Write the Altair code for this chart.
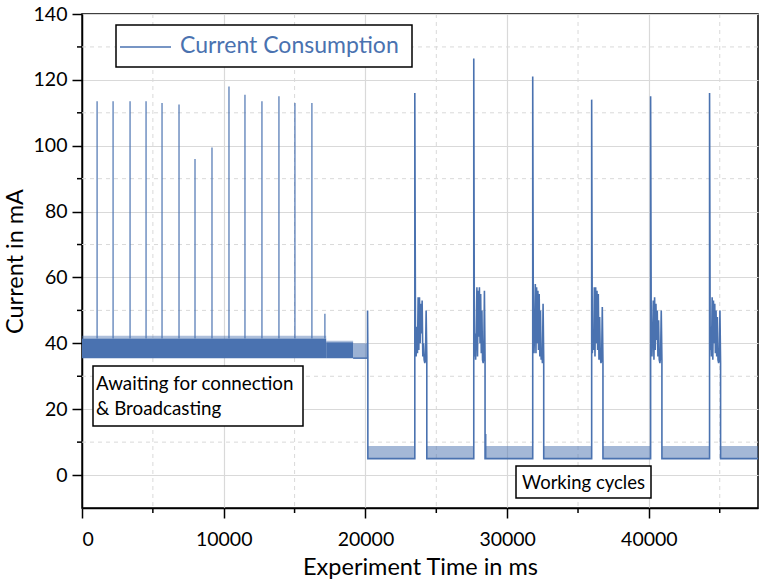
import altair as alt
import pandas as pd

BLUE = "#4a72b0"
GRID = "#d9d9d9"
FONT = "Lato"

# ---- axes ----
X_MAX = 47700
Y_MIN, Y_MAX = -10, 140
x_major = [0, 10000, 20000, 30000, 40000]
x_minor = [5000, 15000, 25000, 35000, 45000]
y_major = [0, 20, 40, 60, 80, 100, 120, 140]
y_minor = [10, 30, 50, 70, 90, 110, 130]

# ---- connection / broadcasting phase ----
conn_spike_t = [1065, 2193, 3391, 4520, 5647, 6846, 7974, 9172, 10371, 11499, 12697, 13896, 15024, 16222, 17139]
conn_spike_peak = [113.5, 113.5, 113.5, 113.5, 113, 112.5, 96, 99.5, 118, 115.5, 113.5, 115, 113, 113, 49]
conn_spike_base = 41.5

band_start = [0, 17230]
band_end = [17230, 19130]
band_low = [35.5, 35.5]
band_high = [41.5, 40.3]
fringe_high = [42.3, 40.8]

stripe_start = [19130]
stripe_end = [20150]
stripe_low = [35.5]
stripe_high = [40.0]

# ---- working cycles ----
switch_t = 20150
switch_peak = 50
low_level = 5
low_top = 8.8

cycle_spike_t = [23484, 27644, 31804, 35963, 40123, 44282]
cycle_spike_peak = [116, 126.5, 121, 114, 115, 116]
cycle_burst_end = [24330, 28440, 32580, 36760, 40920, 45060]
burst_1 = [41, 36, 45, 37, 54, 38, 54, 40, 52, 43, 53, 36, 40, 35, 34, 35, 50, 36]
burst_2 = [36, 43, 35, 44, 57, 36, 56, 42, 57, 40, 55, 37, 50, 35, 34, 36, 56, 35]
burst_3 = [40, 37, 46, 58, 37, 57, 40, 56, 38, 55, 36, 50, 35, 38, 34, 52, 35]
burst_4 = [37, 44, 38, 57, 36, 57, 40, 56, 38, 55, 35, 48, 36, 34, 35, 51, 34]
burst_5 = [40, 36, 43, 53, 35, 54, 38, 52, 41, 50, 36, 47, 35, 34, 36, 50, 35]
burst_6 = [38, 45, 36, 54, 35, 53, 40, 52, 37, 50, 36, 48, 35, 34, 35, 50, 34]
bursts = [burst_1, burst_2, burst_3, burst_4, burst_5, burst_6]

low_start = [20170, 24340, 28450, 32590, 36770, 40930, 45070]
low_end = [23484, 27644, 31804, 35963, 40123, 44282, 47700]
bump_start = [28450]
bump_end = [28540]
bump_top = [12.5]

# ---- build tables ----
line_rows = []
def add(t, v):
    line_rows.append({"t": t, "v": v, "seq": len(line_rows)})

add(switch_t, band_low[0])
add(switch_t, switch_peak)
add(low_start[0], 36)
add(low_start[0], low_level)
for i, st in enumerate(cycle_spike_t):
    add(st, low_level)
    add(st, cycle_spike_peak[i])
    vals = bursts[i]
    end = cycle_burst_end[i]
    n = len(vals)
    for k, v in enumerate(vals):
        add(st + (k + 1) * (end - st) / n, v)
    add(end, low_level)
    add(low_start[i + 1], low_level)
add(X_MAX, low_level)
line_df = pd.DataFrame(line_rows)

xs = alt.Scale(domain=[0, X_MAX], nice=False, zero=False)
ys = alt.Scale(domain=[Y_MIN, Y_MAX], nice=False, zero=False)

x_axis = alt.Axis(values=x_major, format="d", title="Experiment Time in ms",
                  grid=True, gridColor=GRID, gridWidth=1.2,
                  tickSize=10, tickWidth=1.5, tickColor="black",
                  domainColor="black", domainWidth=1.5,
                  labelFont=FONT, labelFontSize=19.5, labelColor="black", labelPadding=12,
                  titleFont=FONT, titleFontSize=23.5, titleFontWeight="normal",
                  titleColor="black", titlePadding=7)
y_axis = alt.Axis(values=y_major, format="d", title="Current in mA",
                  grid=True, gridColor=GRID, gridWidth=1.2,
                  tickSize=10, tickWidth=1.5, tickColor="black",
                  domainColor="black", domainWidth=1.5,
                  labelFont=FONT, labelFontSize=19.5, labelColor="black", labelPadding=5,
                  titleFont=FONT, titleFontSize=23.5, titleFontWeight="normal",
                  titleColor="black", titlePadding=6)


def X(field):
    return alt.X(field, scale=xs, axis=x_axis)


def Y(field):
    return alt.Y(field, scale=ys, axis=y_axis)


# minor grid
xminor_grid = alt.Chart(pd.DataFrame({"t": x_minor})).mark_rule(
    color=GRID, strokeDash=[4, 4], strokeWidth=1).encode(x=X("t:Q"))
yminor_grid = alt.Chart(pd.DataFrame({"v": y_minor})).mark_rule(
    color=GRID, strokeDash=[4, 4], strokeWidth=1).encode(y=Y("v:Q"))

# minor ticks
yminor_ticks = alt.Chart(pd.DataFrame({"v": y_minor})).mark_rule(
    color="black", strokeWidth=1.5).encode(
    y=Y("v:Q"), x=alt.value(-5), x2=alt.value(0))
xminor_ticks = alt.Chart(pd.DataFrame({"t": x_minor})).mark_rule(
    color="black", strokeWidth=1.5).encode(
    x=X("t:Q"), y=alt.value(494), y2=alt.value(499))

# bands
band_df = pd.DataFrame({"s": band_start, "e": band_end, "lo": band_low, "hi": band_high, "fh": fringe_high})
band = alt.Chart(band_df).mark_rect(color=BLUE).encode(
    x=X("s:Q"), x2="e:Q", y=Y("lo:Q"), y2="hi:Q")
fringe = alt.Chart(band_df).mark_rect(color=BLUE, opacity=0.45).encode(
    x=X("s:Q"), x2="e:Q", y=Y("hi:Q"), y2="fh:Q")
stripe_df = pd.DataFrame({"s": stripe_start, "e": stripe_end, "lo": stripe_low, "hi": stripe_high})
stripe = alt.Chart(stripe_df).mark_rect(color=BLUE, opacity=0.55).encode(
    x=X("s:Q"), x2="e:Q", y=Y("lo:Q"), y2="hi:Q")
stripe_floor = alt.Chart(stripe_df).mark_rule(color=BLUE, strokeWidth=1.5).encode(
    x=X("s:Q"), x2="e:Q", y=Y("lo:Q"))

conn_df = pd.DataFrame({"t": conn_spike_t, "p": conn_spike_peak, "b": [conn_spike_base] * len(conn_spike_t)})
conn_spikes = alt.Chart(conn_df).mark_rule(color=BLUE, strokeWidth=1.4, opacity=0.85).encode(
    x=X("t:Q"), y=Y("b:Q"), y2="p:Q")

low_df = pd.DataFrame({"s": low_start, "e": low_end, "lo": [low_level] * len(low_start), "hi": [low_top] * len(low_start)})
low_band = alt.Chart(low_df).mark_rect(color=BLUE, opacity=0.5).encode(
    x=X("s:Q"), x2="e:Q", y=Y("lo:Q"), y2="hi:Q")
bump_df = pd.DataFrame({"s": bump_start, "e": bump_end, "lo": [low_level], "hi": bump_top})
bump = alt.Chart(bump_df).mark_rect(color=BLUE).encode(
    x=X("s:Q"), x2="e:Q", y=Y("lo:Q"), y2="hi:Q")

signal = alt.Chart(line_df).mark_line(color=BLUE, strokeWidth=1.6).encode(
    x=X("t:Q"), y=Y("v:Q"), order="seq:Q")

# legend box
one = pd.DataFrame({"a": [0]})
legend_box = alt.Chart(one).mark_rect(fill="white", stroke="black", strokeWidth=1.5).encode(
    x=alt.value(34), x2=alt.value(330), y=alt.value(11), y2=alt.value(53))
legend_line = alt.Chart(one).mark_rule(color=BLUE, strokeWidth=1.5).encode(
    x=alt.value(38), x2=alt.value(89), y=alt.value(33))
legend_text = alt.Chart(one).mark_text(text="Current Consumption", align="left", baseline="middle",
                                       font=FONT, fontSize=23, color=BLUE).encode(
    x=alt.value(98), y=alt.value(32))

# annotations
ann1_box = alt.Chart(one).mark_rect(fill="white", stroke="black", strokeWidth=1.5).encode(
    x=alt.value(11), x2=alt.value(221), y=alt.value(352), y2=alt.value(412))
ann1_text = alt.Chart(one).mark_text(text=["Awaiting for connection", "& Broadcasting"],
                                     align="left", baseline="middle", lineHeight=25,
                                     font=FONT, fontSize=18.8, color="black").encode(
    x=alt.value(14), y=alt.value(370))
ann2_box = alt.Chart(one).mark_rect(fill="white", stroke="black", strokeWidth=1.5).encode(
    x=alt.value(434), x2=alt.value(569), y=alt.value(452), y2=alt.value(484))
ann2_text = alt.Chart(one).mark_text(text="Working cycles", align="center", baseline="middle",
                                     font=FONT, fontSize=18.5, color="black").encode(
    x=alt.value(501.5), y=alt.value(469))

chart = alt.layer(
    xminor_grid, yminor_grid, xminor_ticks, yminor_ticks,
    band, fringe, stripe, stripe_floor, conn_spikes,
    low_band, bump, signal,
    legend_box, legend_line, legend_text,
    ann1_box, ann1_text, ann2_box, ann2_text,
).properties(
    width=676, height=494,
    autosize=alt.AutoSizeParams(type="none"),
    padding={"left": 82, "top": 14, "right": 7, "bottom": 78},
).configure_view(stroke="black", strokeWidth=1.5)

chart.save("out.html", embed_options={"renderer": "svg", "actions": False})
